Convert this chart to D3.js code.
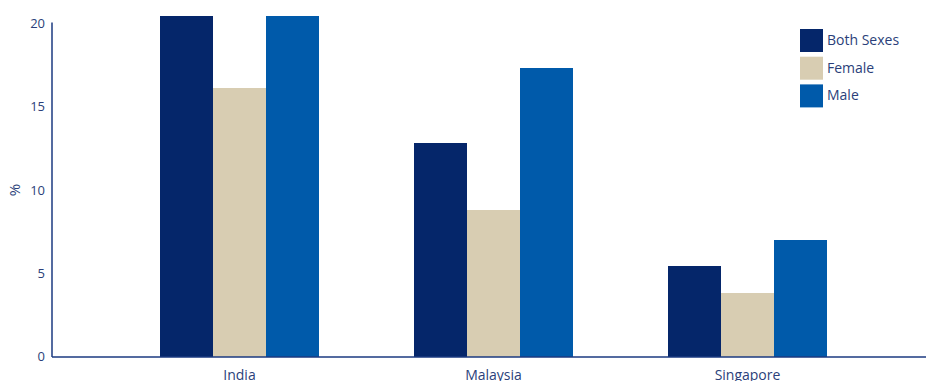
<!DOCTYPE html>
<html>
<head>
<meta charset="utf-8">
<script src="https://cdn.jsdelivr.net/npm/d3@7"></script>
<style>
  html, body { margin: 0; padding: 0; background: #fff; }
  svg { display: block; }
  text { font-family: "Open Sans", "Noto Sans", sans-serif; fill: #2b3f7a; }
</style>
</head>
<body>
<svg id="chart" width="926" height="381"></svg>
<script>
// Share of population (%) by country and sex
const countries = ["India", "Malaysia", "Singapore"];
const seriesNames = ["Both Sexes", "Female", "Male"];
const bothSexes = [20.45, 12.82, 5.44];
const female = [16.13, 8.8, 3.81];
const male = [20.45, 17.33, 7.0];
const yTicks = [0, 5, 10, 15, 20];
const colors = ["#05266a", "#d8cdb2", "#005aaa"];

const seriesValues = [bothSexes, female, male];
const rows = countries.map((c, i) => ({
  country: c,
  values: seriesNames.map((s, j) => ({ key: s, value: seriesValues[j][i] }))
}));

const svg = d3.select("#chart");
const axisX = 52, baseY = 356.5, topY = 23.5;

const y = d3.scaleLinear().domain([0, 20]).range([baseY, topY]);
const x0 = d3.scaleBand().domain(countries).range([112.5, 874.5]);
const groupW = 159;
const x1 = d3.scaleBand().domain(seriesNames).range([0, groupW]);
const color = d3.scaleOrdinal().domain(seriesNames).range(colors);

// bars
const groups = svg.append("g").selectAll("g").data(rows).join("g")
  .attr("transform", d => `translate(${x0(d.country) + (x0.bandwidth() - groupW) / 2},0)`);
groups.selectAll("rect").data(d => d.values).join("rect")
  .attr("x", d => x1(d.key))
  .attr("width", x1.bandwidth())
  .attr("y", d => y(d.value))
  .attr("height", d => y(0) - y(d.value))
  .attr("fill", d => color(d.key))
  .attr("shape-rendering", "crispEdges");

// y axis
const yAxis = svg.append("g").attr("transform", `translate(${axisX},0)`)
  .call(d3.axisLeft(y).tickValues(yTicks).tickSize(0).tickPadding(7));
yAxis.select(".domain").attr("stroke", "#1b3a80").attr("stroke-width", 1.5)
  .attr("d", `M0,${topY - 1}V${baseY + 0.5}`);
yAxis.selectAll("text").attr("font-size", 13).attr("fill", "#2b3f7a")
  .style("font-family", "'Open Sans', sans-serif");

// x axis
const xAxis = svg.append("g").attr("transform", `translate(0,${baseY + 0.5})`)
  .call(d3.axisBottom(x0).tickSize(0).tickPadding(13));
xAxis.select(".domain").attr("stroke", "#1b3a80").attr("stroke-width", 1.5)
  .attr("d", `M${axisX},0H926`);
xAxis.selectAll("text").attr("font-size", 14).attr("fill", "#2b3f7a")
  .style("font-family", "'Open Sans', sans-serif");

// y label
svg.append("text")
  .attr("transform", `translate(20,${(baseY + topY) / 2}) rotate(-90)`)
  .attr("text-anchor", "middle")
  .attr("font-size", 15)
  .text("%");

// legend
const legend = svg.append("g").attr("transform", "translate(800,29)");
const item = legend.selectAll("g").data(seriesNames).join("g")
  .attr("transform", (d, i) => `translate(0,${i * 27.7})`);
item.append("rect").attr("width", 23).attr("height", 23).attr("fill", d => color(d));
item.append("text").attr("x", 27).attr("y", 11).attr("dy", "0.36em")
  .attr("font-size", 14).text(d => d);
</script>
</body>
</html>
